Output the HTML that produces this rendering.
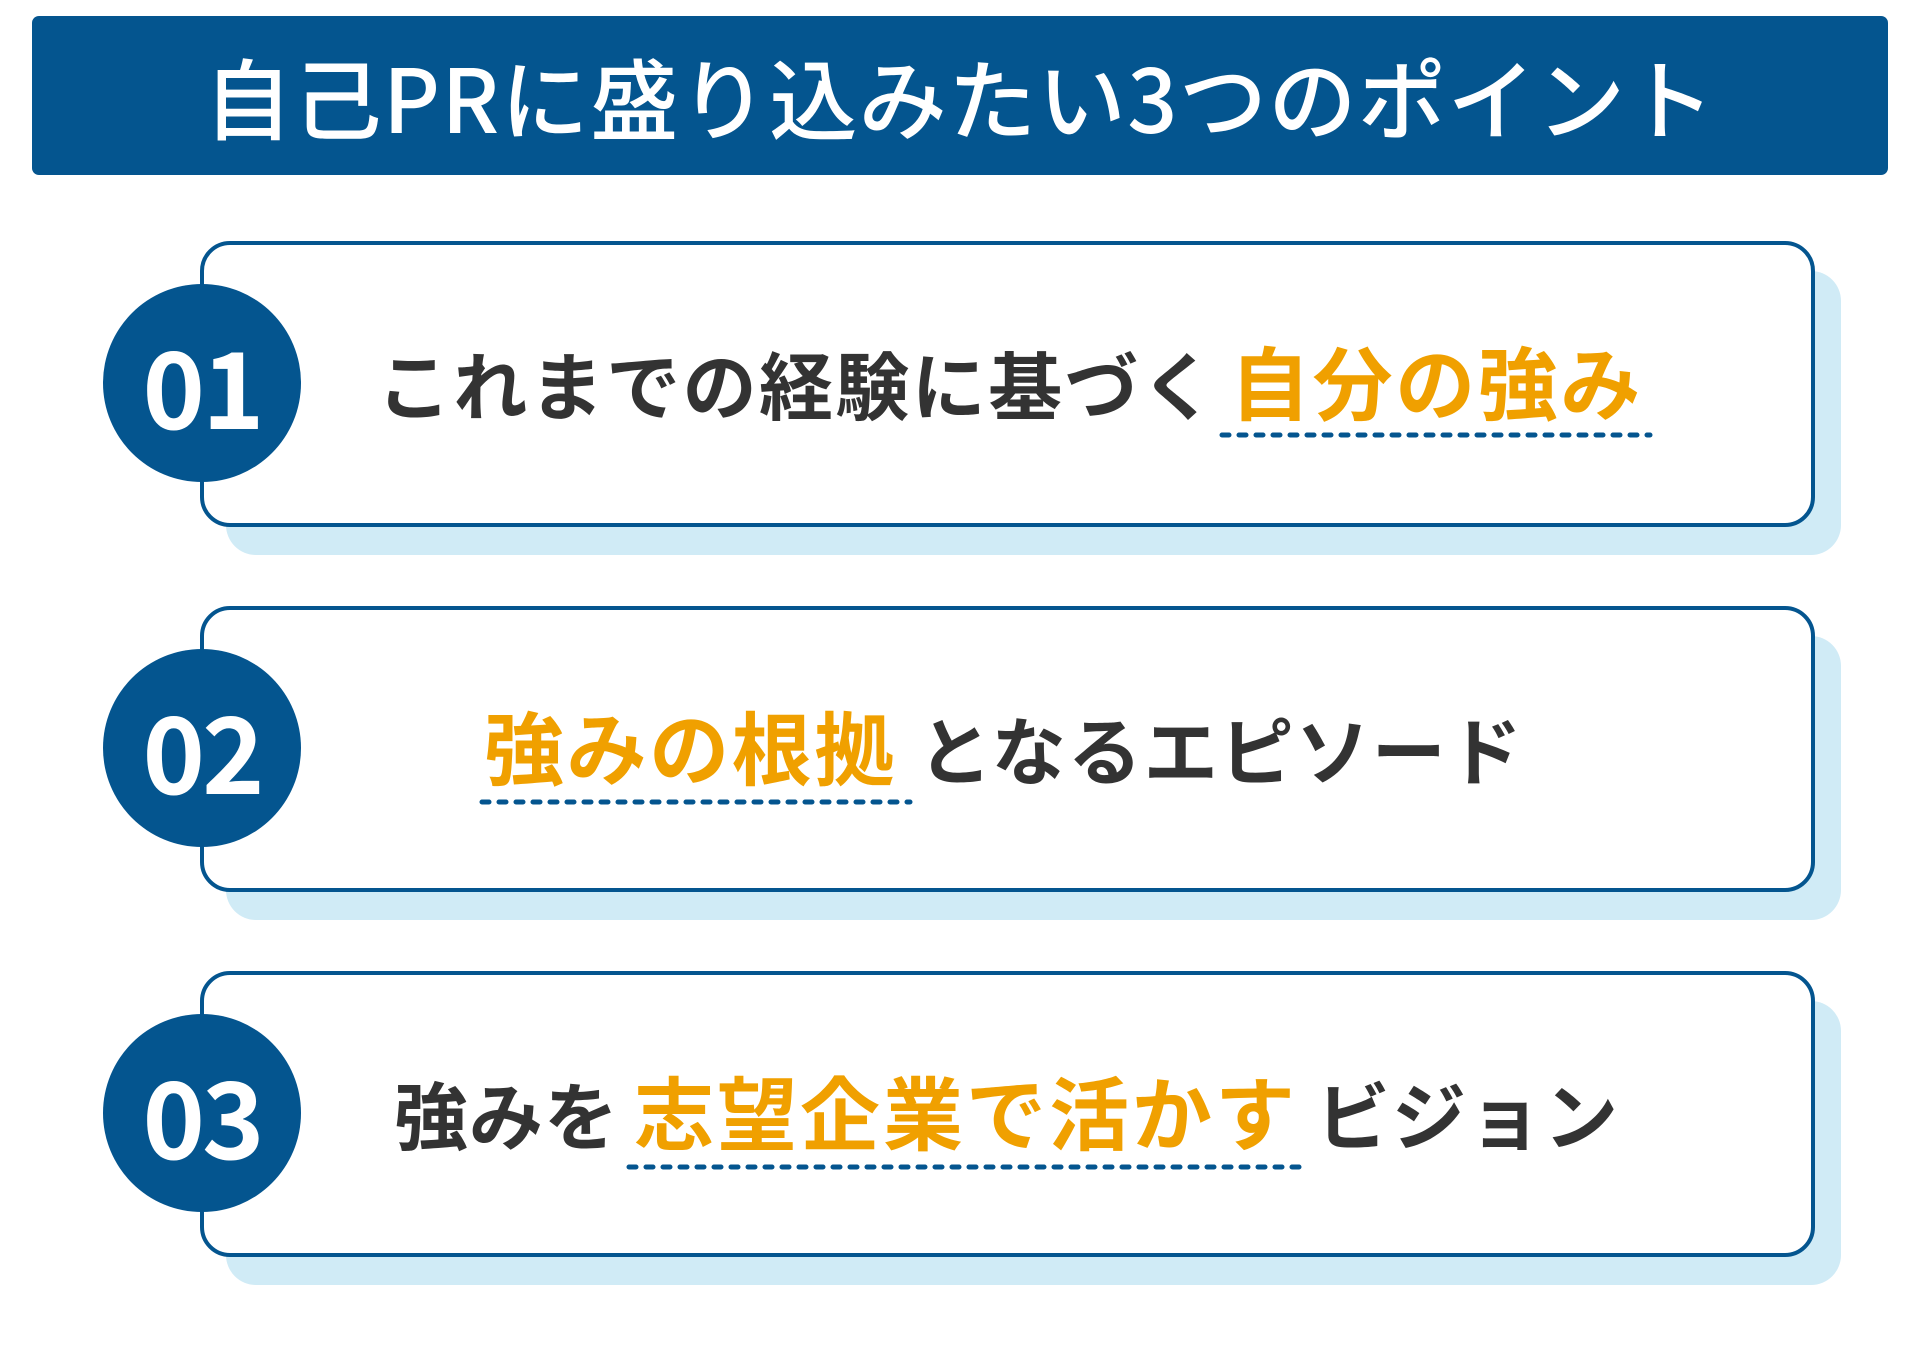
<!DOCTYPE html>
<html><head><meta charset="utf-8"><style>
body{margin:0;width:1920px;height:1346px;background:#fff;position:relative;overflow:hidden;font-family:"Liberation Sans","Noto Sans CJK JP",sans-serif}
.hdr{position:absolute;left:32px;top:16px;width:1856px;height:159px;background:#04558f;border-radius:7px}
.ttl{position:absolute;left:0;top:16px;width:1920px;height:159px;line-height:159px;text-align:center;color:#fff;font-size:88px;font-weight:500;letter-spacing:1.5px;font-family:"Noto Sans CJK JP",sans-serif}
.sh{position:absolute;width:1615px;height:284px;background:#d0ebf6;border-radius:30px}
.card{position:absolute;left:200px;width:1607px;height:278px;border:4px solid #04558f;background:#fff;border-radius:30px}
.circ{position:absolute;left:103px;width:198px;height:198px;border-radius:50%;background:#04558f;color:#fff;font-weight:700;font-size:106px;line-height:198px;text-align:center;font-family:"Noto Sans CJK JP","Liberation Sans",sans-serif;letter-spacing:-3px}
.t{position:absolute;line-height:80px;height:80px;font-weight:700;white-space:nowrap;font-family:"Noto Sans CJK JP",sans-serif}
.d{color:#333;font-size:74px}.o{color:#f0a000;font-size:80px}
svg.u{position:absolute;height:8px}
</style></head><body>
<div class="hdr"></div>
<div class="ttl">自己PRに盛り込みたい3つのポイント</div>

<div class="sh" style="left:226px;top:271px"></div>
<div class="card" style="top:241px"></div>
<div class="circ" style="top:284px">01</div>
<div class="t d" style="left:377px;top:343px;letter-spacing:2.4px">これまでの経験に基づく</div>
<div class="t o" style="left:1230px;top:340px;letter-spacing:2.6px">自分の強み</div>
<svg class="u" style="left:1218px;top:431px" width="436" height="8"><line x1="4" y1="4" x2="432" y2="4" stroke="#04558f" stroke-width="5" stroke-linecap="round" stroke-dasharray="7 10"/></svg>

<div class="sh" style="left:226px;top:636px"></div>
<div class="card" style="top:606px"></div>
<div class="circ" style="top:649px">02</div>
<div class="t o" style="left:484px;top:705px;letter-spacing:2.6px">強みの根拠</div>
<div class="t d" style="left:918px;top:708px;letter-spacing:2px">となるエピソード</div>
<svg class="u" style="left:478px;top:798px" width="436" height="8"><line x1="4" y1="4" x2="432" y2="4" stroke="#04558f" stroke-width="5" stroke-linecap="round" stroke-dasharray="7 10"/></svg>

<div class="sh" style="left:226px;top:1001px"></div>
<div class="card" style="top:971px"></div>
<div class="circ" style="top:1014px">03</div>
<div class="t d" style="left:394px;top:1073px;letter-spacing:1px">強みを</div>
<div class="t o" style="left:634px;top:1070px;letter-spacing:3px">志望企業で活かす</div>
<div class="t d" style="left:1316px;top:1073px;letter-spacing:2px">ビジョン</div>
<svg class="u" style="left:625px;top:1163px" width="686" height="8"><line x1="4" y1="4" x2="682" y2="4" stroke="#04558f" stroke-width="5" stroke-linecap="round" stroke-dasharray="7 10"/></svg>
</body></html>
